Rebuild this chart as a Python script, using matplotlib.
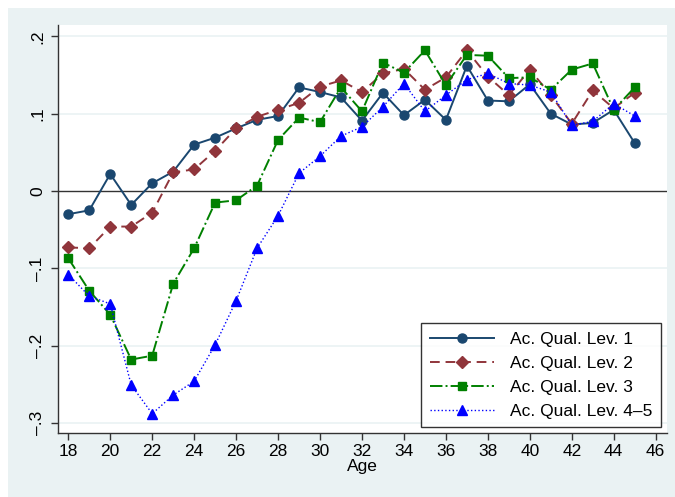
import numpy as np
import matplotlib.pyplot as plt
from matplotlib.patches import Rectangle

plt.rcParams['font.family'] = ['Liberation Sans', 'DejaVu Sans']

age = np.arange(18, 46)

lev1 = [-0.030, -0.025, 0.022, -0.018, 0.010, 0.025, 0.060, 0.069, 0.081, 0.092,
        0.097, 0.134, 0.128, 0.121, 0.091, 0.127, 0.098, 0.118, 0.092, 0.162,
        0.117, 0.116, 0.138, 0.100, 0.086, 0.088, 0.105, 0.062]
lev2 = [-0.073, -0.074, -0.046, -0.046, -0.028, 0.024, 0.028, 0.052, 0.081, 0.096,
        0.105, 0.114, 0.135, 0.143, 0.128, 0.152, 0.158, 0.131, 0.147, 0.182,
        0.148, 0.124, 0.157, 0.124, 0.087, 0.130, 0.107, 0.127]
lev3 = [-0.087, -0.129, -0.160, -0.218, -0.213, -0.120, -0.074, -0.015, -0.012, 0.007,
        0.066, 0.095, 0.089, 0.134, 0.103, 0.166, 0.153, 0.182, 0.137, 0.176,
        0.175, 0.146, 0.147, 0.131, 0.157, 0.165, 0.105, 0.134]
lev45 = [-0.108, -0.136, -0.146, -0.251, -0.288, -0.264, -0.246, -0.199, -0.142, -0.074,
         -0.032, 0.023, 0.045, 0.071, 0.083, 0.109, 0.139, 0.103, 0.124, 0.144,
         0.152, 0.139, 0.137, 0.128, 0.085, 0.090, 0.113, 0.097]

labels = ['Ac. Qual. Lev. 1', 'Ac. Qual. Lev. 2', 'Ac. Qual. Lev. 3', 'Ac. Qual. Lev. 4\u20135']
xticks = list(range(18, 47, 2))
yticks = [-0.3, -0.2, -0.1, 0, 0.1, 0.2]
ytick_labels = ['\u2013.3', '\u2013.2', '\u2013.1', '0', '.1', '.2']

W, H = 675, 497
fig = plt.figure(figsize=(W / 100, H / 100), dpi=100)
fig.patch.set_facecolor('white')
fig.patches.append(Rectangle((8 / W, 0), 1 - 8 / W, 1 - 8 / H, transform=fig.transFigure,
                             facecolor='#eaf2f3', edgecolor='none', zorder=-10))

ax = fig.add_axes([58 / W, 1 - 433 / H, (667 - 58) / W, (433 - 25) / H])
ax.set_facecolor('white')

ax.axhline(0, color='#333333', lw=1.0, zorder=1)
for yv in yticks:
    if yv != 0:
        ax.axhline(yv, color='#eaf2f3', lw=1.2, zorder=0)

ax.plot(age, lev1, color='#1a476f', lw=1.4, ls='-', marker='o', ms=6.5,
        label=labels[0], zorder=3)
ax.plot(age, lev2, color='#90353b', lw=1.4, ls=(0, (5, 3)), marker='D', ms=6,
        label=labels[1], zorder=3)
ax.plot(age, lev3, color='#008000', lw=1.4, ls='-.', marker='s', ms=6,
        label=labels[2], zorder=3)
ax.plot(age, lev45, color='#0000ff', lw=1.0, ls=':', marker='^', ms=7,
        label=labels[3], zorder=3)

ax.set_xlim(17.51, 46.54)
ax.set_ylim(-0.313, 0.2147)
ax.set_xticks(xticks)
ax.set_yticks(yticks)
ax.set_yticklabels(ytick_labels, rotation=90, va='center')
ax.tick_params(axis='both', labelsize=12.5, length=5, width=1, direction='out', color='#333333')
ax.tick_params(axis='y', pad=4)
ax.tick_params(axis='x', pad=3)
ax.set_xlabel('Age', fontsize=12.5, labelpad=0)

for s in ['top', 'right']:
    ax.spines[s].set_visible(False)
for s in ['left', 'bottom']:
    ax.spines[s].set_color('#333333')
    ax.spines[s].set_linewidth(1.0)

leg = ax.legend(loc='lower right', bbox_to_anchor=(660.7 / W, 1 - 427.3 / H),
                bbox_transform=fig.transFigure, fontsize=12.5, frameon=True,
                fancybox=False, edgecolor='black', handlelength=3.7,
                borderpad=0.5, labelspacing=0.5, handletextpad=0.9,
                borderaxespad=0)
leg.get_frame().set_linewidth(1.0)

fig.savefig('out.png', dpi=100)
